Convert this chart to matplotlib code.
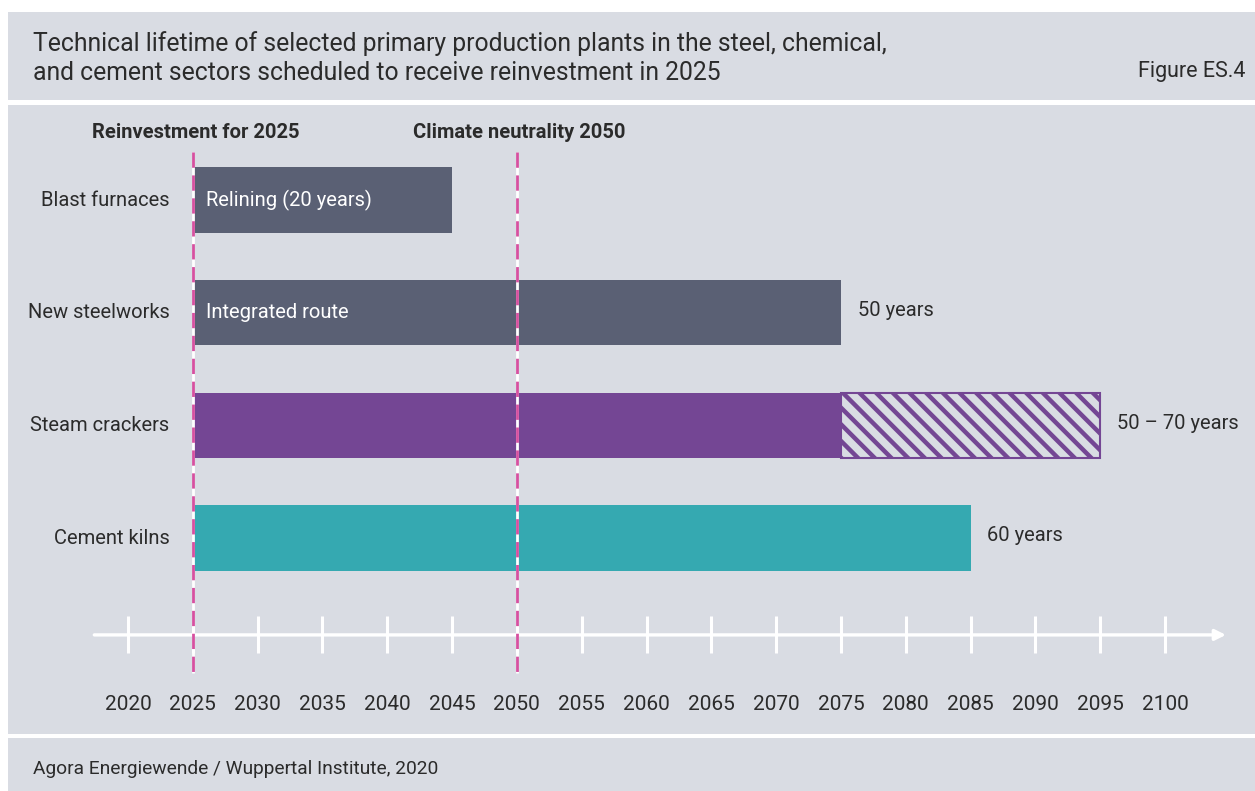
import matplotlib
matplotlib.use("Agg")
import matplotlib.pyplot as plt
from matplotlib.patches import Rectangle

# --- data -------------------------------------------------------------
categories = ["Blast furnaces", "New steelworks", "Steam crackers", "Cement kilns"]
start_year = 2025
lifetime_min = [20, 50, 50, 60]          # years
lifetime_max = [20, 50, 70, 60]          # years
inside_labels = ["Relining (20 years)", "Integrated route", "", ""]
end_labels = ["", "50 years", "50 – 70 years", "60 years"]
bar_colors = ["#5a6074", "#5a6074", "#744694", "#35a9b1"]
tick_years = list(range(2020, 2101, 5))
markers = [2025, 2050]
marker_labels = ["Reinvestment for 2025", "Climate neutrality 2050"]

title = ("Technical lifetime of selected primary production plants in the steel, chemical,\n"
         "and cement sectors scheduled to receive reinvestment in 2025")
fig_label = "Figure ES.4"
source = "Agora Energiewende / Wuppertal Institute, 2020"

# --- style ------------------------------------------------------------
BG = "#d9dce3"
TEXT = "#2b2b2b"
PINK = "#d650a0"
FONT = "Roboto"
plt.rcParams["font.family"] = [FONT, "DejaVu Sans"]
plt.rcParams["hatch.linewidth"] = 3.2
plt.rcParams["lines.scale_dashes"] = False

W, H = 1255, 791
fig = plt.figure(figsize=(W / 100, H / 100), dpi=100, facecolor="white")


def panel(y0, y1):
    fig.patches.append(Rectangle((8 / W, 1 - y1 / H), 1 - 8 / W, (y1 - y0) / H,
                                 transform=fig.transFigure, facecolor=BG,
                                 edgecolor="none", zorder=-5))


panel(12, 100)
panel(105, 734)
panel(738, 791)

fig.text(33 / W, 1 - 58 / H, title, ha="left", va="center", fontsize=17.8,
         color=TEXT, linespacing=1.25)
fig.text(1245 / W, 1 - 72 / H, fig_label, ha="right", va="center",
         fontsize=15.5, color=TEXT)
fig.text(33 / W, 1 - 769 / H, source, ha="left", va="center",
         fontsize=13.8, color=TEXT)

# --- chart axes (full-figure, data coordinates) ------------------------
ax = fig.add_axes([0, 0, 1, 1])
ax.set_zorder(2)
ax.set_facecolor("none")
ax.axis("off")
px_per_year = (1165 - 128) / 80
ax.set_xlim(2020 - 128 / px_per_year, 2020 + (W - 128) / px_per_year)
row = 112.67
ax.set_ylim((H - 200) / row, -200 / row)

LABEL_FS = 14.5
bar_h = 0.58
for i, cat in enumerate(categories):
    lo, hi = lifetime_min[i], lifetime_max[i]
    ax.barh(i, lo, left=start_year, height=bar_h, color=bar_colors[i],
            edgecolor="none", zorder=2)
    if hi > lo:
        ax.barh(i, hi - lo, left=start_year + lo, height=bar_h,
                facecolor=BG, edgecolor=bar_colors[i], hatch="\\\\",
                linewidth=1.5, zorder=2)
    ax.text(start_year - 1.8, i, cat, ha="right", va="center",
            fontsize=LABEL_FS, color=TEXT)
    if inside_labels[i]:
        ax.text(start_year + 1.0, i, inside_labels[i], ha="left",
                va="center", fontsize=LABEL_FS, color="white", zorder=3)
    if end_labels[i]:
        ax.text(start_year + hi + 1.3, i - 0.02, end_labels[i], ha="left",
                va="center", fontsize=LABEL_FS, color=TEXT)

# timeline axis with arrow head
axis_y = 3.86
ax.annotate("", xy=(2104.7, axis_y), xytext=(2017.4, axis_y),
            arrowprops=dict(arrowstyle="-|>", color="white", lw=2.4,
                            mutation_scale=16, shrinkA=0, shrinkB=0),
            zorder=1)
for yr in tick_years:
    ax.plot([yr, yr], [axis_y - 0.165, axis_y + 0.165], color="white",
            lw=2.2, zorder=1, solid_capstyle="butt")
    ax.text(yr, 4.48, str(yr), ha="center", va="center", fontsize=15,
            color=TEXT)

# reference years
for yr, lab in zip(markers, marker_labels):
    ax.plot([yr, yr], [-0.43, 4.2], color="white", lw=2, zorder=4,
            solid_capstyle="butt")
    ax.plot([yr, yr], [-0.43, 4.2], color=PINK, lw=2, zorder=5,
            dashes=(11, 5.5), dash_capstyle="butt")
    ax.text(yr + 0.2, -0.595, lab, ha="center", va="center",
            fontsize=14.5, fontweight="bold", color=TEXT)

fig.savefig("out.png", dpi=100, facecolor="white")
